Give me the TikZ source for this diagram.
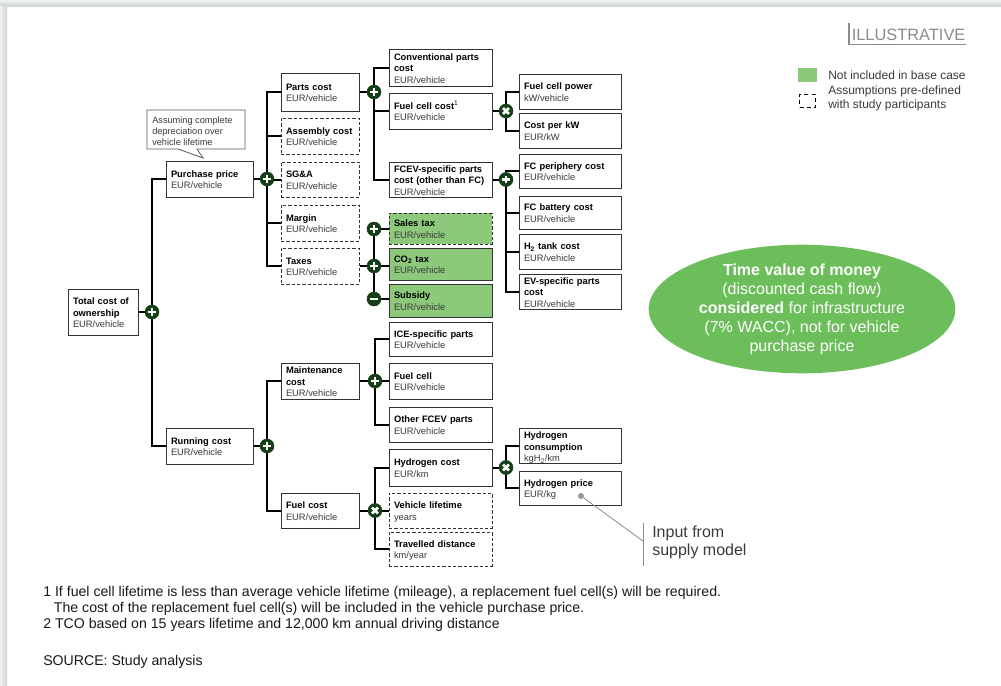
\documentclass[tikz,border=0pt]{standalone}
\usepackage{fontspec}
\setmainfont{Liberation Sans}
\usetikzlibrary{shapes.geometric}
\definecolor{sgngreen}{HTML}{173F17}
\definecolor{boxgreen}{HTML}{8CC97A}
\definecolor{ellgreen}{HTML}{6BBE5A}
\definecolor{edgegray}{HTML}{CDD5D4}
\definecolor{unitgray}{HTML}{3A3A3A}
\definecolor{bordergray}{HTML}{333333}
\definecolor{notegray}{HTML}{8C8C8C}
\pgfdeclarelayer{bg}
\pgfsetlayers{bg,main}
\newcommand\boxfont{\fontsize{7}{8.6}\selectfont}
\newcommand\un[1]{\textcolor{unitgray}{#1}}
\newcommand\bx[7]{%
  \pgfmathsetmacro\myBW{(#4-#2)*0.75}%
  \pgfmathsetmacro\myBH{(#5-#3)*0.75}%
  \pgfmathsetmacro\myTW{(#4-#2)*0.75-7.5}%
  \node[#6, minimum width=\myBW pt, minimum height=\myBH pt, text width=\myTW pt,
        inner xsep=3.75pt, inner ysep=0pt] (#1) at ({(#2+#4)/2},{(#3+#5)/2})
        {\raisebox{-1.4pt}[\height][\depth]{\begin{tabular}{@{}l@{}}#7\end{tabular}}};}
\begin{document}
\begin{tikzpicture}[x=0.75pt,y=-0.75pt,
  cbox/.style={rectangle, draw=bordergray, line width=0.75pt, fill=white, font=\boxfont, align=left},
  dbox/.style={cbox, dash pattern=on 2.4pt off 1.6pt},
  gbox/.style={cbox, fill=boxgreen},
  gdbox/.style={dbox, fill=boxgreen},
  conn/.style={line width=1.5pt, black},
  sgn/.style={circle, fill=sgngreen, draw=sgngreen, minimum size=10.5pt, inner sep=0pt},
  plussgn/.style={sgn, path picture={\draw[white, line width=2pt]
     ([xshift=-2.9pt]path picture bounding box.center) -- ([xshift=2.9pt]path picture bounding box.center)
     ([yshift=-2.9pt]path picture bounding box.center) -- ([yshift=2.9pt]path picture bounding box.center);}},
  minussgn/.style={sgn, path picture={\draw[white, line width=2pt]
     ([xshift=-3pt]path picture bounding box.center) -- ([xshift=3pt]path picture bounding box.center);}},
  timessgn/.style={sgn, path picture={\draw[white, line width=2pt]
     ([shift={(-2.2pt,-2.2pt)}]path picture bounding box.center) -- ([shift={(2.2pt,2.2pt)}]path picture bounding box.center)
     ([shift={(-2.2pt,2.2pt)}]path picture bounding box.center) -- ([shift={(2.2pt,-2.2pt)}]path picture bounding box.center);}},
  legtext/.style={font=\fontsize{9}{10.5}\selectfont, text=unitgray, align=left, anchor=west, inner sep=0pt},
  foot/.style={font=\fontsize{10.6}{12}\selectfont, text=black!90, align=left, anchor=west, inner sep=0pt}
]
\useasboundingbox (0,0) rectangle (1001,686);
\begin{pgfonlayer}{bg}
\fill[white] (0,0) rectangle (1001,686);
\shade[top color=edgegray!30, bottom color=edgegray] (0,0) rectangle (1001,6);
\shade[left color=edgegray!30, right color=edgegray] (0,6) rectangle (7,686);
\end{pgfonlayer}

% ---------- boxes ----------
\bx{tco}{68}{289}{138}{335}{cbox}{\textbf{Total cost of}\\\textbf{ownership}\\\un{EUR/vehicle}}
\bx{pp}{166}{161}{253}{197}{cbox}{\textbf{Purchase price}\\\un{EUR/vehicle}}
\bx{rc}{166}{428}{253}{464}{cbox}{\textbf{Running cost}\\\un{EUR/vehicle}}

\bx{parts}{281}{73}{359}{111}{cbox}{\textbf{Parts cost}\\\un{EUR/vehicle}}
\bx{asm}{281}{118}{359}{154}{dbox}{\textbf{Assembly cost}\\\un{EUR/vehicle}}
\bx{sga}{281}{162}{359}{197}{dbox}{\textbf{SG\&A}\\\un{EUR/vehicle}}
\bx{mar}{281}{205}{359}{241}{dbox}{\textbf{Margin}\\\un{EUR/vehicle}}
\bx{tax}{281}{248}{359}{284}{dbox}{\textbf{Taxes}\\\un{EUR/vehicle}}
\bx{mnt}{281}{363}{359}{399}{cbox}{\textbf{Maintenance}\\\textbf{cost}\\\un{EUR/vehicle}}
\bx{fuel}{281}{493}{359}{528}{cbox}{\textbf{Fuel cost}\\\un{EUR/vehicle}}

\bx{conv}{389}{49}{492}{86}{cbox}{\textbf{Conventional parts}\\\textbf{cost}\\\un{EUR/vehicle}}
\bx{fcc}{389}{93}{492}{129}{cbox}{\textbf{Fuel cell cost}{\fontsize{5}{5}\selectfont\raisebox{2.6pt}{1}}\\\un{EUR/vehicle}}
\bx{fcev}{389}{162}{492}{197}{cbox}{\textbf{FCEV-specific parts}\\\textbf{cost (other than FC)}\\\un{EUR/vehicle}}
\bx{st}{389}{213}{492}{244}{gdbox}{\textbf{Sales tax}\\\un{EUR/vehicle}}
\bx{co2}{389}{248}{492}{280}{gbox}{\textbf{CO\textsubscript{2} tax}\\\un{EUR/vehicle}}
\bx{sub}{389}{284}{492}{317}{gbox}{\textbf{Subsidy}\\\un{EUR/vehicle}}
\bx{ice}{389}{322}{492}{356}{cbox}{\textbf{ICE-specific parts}\\\un{EUR/vehicle}}
\bx{fcm}{389}{363}{492}{399}{cbox}{\textbf{Fuel cell}\\\un{EUR/vehicle}}
\bx{oth}{389}{407}{492}{442}{cbox}{\textbf{Other FCEV parts}\\\un{EUR/vehicle}}
\bx{h2c}{389}{449}{492}{486}{cbox}{\textbf{Hydrogen cost}\\\un{EUR/km}}
\bx{vl}{389}{493}{492}{528}{dbox}{\textbf{Vehicle lifetime}\\\un{years}}
\bx{td}{389}{532}{492}{566}{dbox}{\textbf{Travelled distance}\\\un{km/year}}

\bx{fcp}{519}{74}{621}{109}{cbox}{\textbf{Fuel cell power}\\\un{kW/vehicle}}
\bx{cpk}{519}{113}{621}{148}{cbox}{\textbf{Cost per kW}\\\un{EUR/kW}}
\bx{fcper}{519}{154}{621}{188}{cbox}{\textbf{FC periphery cost}\\\un{EUR/vehicle}}
\bx{fcb}{519}{196}{621}{229}{cbox}{\textbf{FC battery cost}\\\un{EUR/vehicle}}
\bx{h2t}{519}{234}{621}{269}{cbox}{\textbf{H\textsubscript{2} tank cost}\\\un{EUR/vehicle}}
\bx{evs}{519}{274}{621}{309}{cbox}{\textbf{EV-specific parts}\\\textbf{cost}\\\un{EUR/vehicle}}
\bx{h2cons}{519}{429}{621}{463}{cbox}{\textbf{Hydrogen}\\\textbf{consumption}\\\un{kgH\textsubscript{2}/km}}
\bx{h2p}{519}{471}{621}{505}{cbox}{\textbf{Hydrogen price}\\\un{EUR/kg}}

% ---------- sign circles ----------
\node[plussgn] (cT) at (152,312) {};
\node[plussgn] (cPP) at (267,179) {};
\node[plussgn] (cR) at (267,446) {};
\node[plussgn] (cPa) at (374,92) {};
\node[timessgn] (cFC) at (506,111) {};
\node[plussgn] (cFE) at (506,179.5) {};
\node[plussgn] (t1) at (374,229) {};
\node[plussgn] (t2) at (374,266) {};
\node[minussgn] (t3) at (374,299) {};
\node[plussgn] (cM) at (375,381) {};
\node[timessgn] (cF) at (375,510.5) {};
\node[timessgn] (cH) at (506,467.5) {};

% ---------- connectors ----------
\begin{pgfonlayer}{bg}
\draw[conn] (tco) -- (cT);
\draw[conn] (cT.center) |- (pp.west);
\draw[conn] (cT.center) |- (rc.west);
\draw[conn] (pp) -- (cPP);
\foreach \n in {parts,asm,sga,mar,tax} \draw[conn] (cPP.center) |- (\n.west);
\draw[conn] (parts) -- (cPa);
\foreach \n in {conv,fcc,fcev} \draw[conn] (cPa.center) |- (\n.west);
\draw[conn] (fcc) -- (cFC);
\foreach \n in {fcp,cpk} \draw[conn] (cFC.center) |- (\n.west);
\draw[conn] (fcev) -- (cFE);
\foreach \n in {fcper,fcb,h2t,evs} \draw[conn] (cFE.center) |- (\n.west);
\draw[conn] (tax) -- (t2);
\draw[conn] (t1.center) -- (t3.center);
\draw[conn] (t1.center) -- (t1.center -| st.west);
\draw[conn] (t2.center) -- (t2.center -| co2.west);
\draw[conn] (t3.center) -- (t3.center -| sub.west);
\draw[conn] (rc) -- (cR);
\foreach \n in {mnt,fuel} \draw[conn] (cR.center) |- (\n.west);
\draw[conn] (mnt) -- (cM);
\foreach \n in {ice,fcm,oth} \draw[conn] (cM.center) |- (\n.west);
\draw[conn] (fuel) -- (cF);
\foreach \n in {h2c,vl,td} \draw[conn] (cF.center) |- (\n.west);
\draw[conn] (h2c) -- (cH);
\foreach \n in {h2cons,h2p} \draw[conn] (cH.center) |- (\n.west);
\end{pgfonlayer}

% ---------- callout ----------
\draw[fill=white, draw=black!65, line width=0.6pt]
  (147,110) -- (245,110) -- (245,149) -- (197,149) -- (203,158) -- (178,149) -- (147,149) -- cycle;
\node[font=\fontsize{6.9}{8.25}\selectfont, text=unitgray, align=left, anchor=west, inner sep=0pt]
  (note) at (152,131) {Assuming complete\\depreciation over\\vehicle lifetime};

% ---------- supply model pointer ----------
\node[circle, fill=black!40, minimum size=4.5pt, inner sep=0pt] (dot) at (581,496) {};
\coordinate (bend) at (643,541);
\coordinate (vtop) at (643,523);
\coordinate (vbot) at (643,566);
\draw[black!45, line width=0.6pt] (dot) -- (bend);
\draw[black!45, line width=0.6pt] (vtop) -- (vbot);
\node[font=\fontsize{12}{13.5}\selectfont, text=unitgray, align=left, anchor=west, inner sep=0pt]
  (inp) at (652,542) {Input from\\supply model};

% ---------- ellipse ----------
\node[ellipse, fill=ellgreen, minimum width=230pt, minimum height=92pt, inner sep=0pt,
      text=white, align=center, font=\fontsize{12}{14.25}\selectfont] (tvm) at (802,309)
  {\textbf{Time value of money}\\(discounted cash flow)\\\textbf{considered} for infrastructure\\(7\% WACC), not for vehicle\\purchase price};

% ---------- legend ----------
\node[font=\fontsize{12.3}{14}\selectfont, text=notegray, anchor=west, inner sep=0pt] (illu) at (851.5,35) {ILLUSTRATIVE};
\coordinate (iltop) at (849,23);
\coordinate (ilcorner) at (849,44.5);
\coordinate (ilend) at (966,44.5);
\draw[notegray, line width=1pt] (iltop) -- (ilcorner) -- (ilend);

\node[rectangle, fill=boxgreen, minimum width=14.25pt, minimum height=10.5pt, inner sep=0pt] (lg1) at (807.5,75) {};
\node[legtext] (lt1) at (828,75) {Not included in base case};
\node[rectangle, draw=black, line width=0.75pt, dash pattern=on 3pt off 2.5pt, minimum width=12pt, minimum height=10pt, inner sep=0pt] (lg2) at (807.5,101) {};
\node[legtext] (lt2) at (828,98) {Assumptions pre-defined\\with study participants};

% ---------- footnotes ----------
\node[foot] (fn) at (43,609) {1 If fuel cell lifetime is less than average vehicle lifetime (mileage), a replacement fuel cell(s) will be required.\\\hspace*{8pt}The cost of the replacement fuel cell(s) will be included in the vehicle purchase price.\\2 TCO based on 15 years lifetime and 12,000 km annual driving distance};
\node[foot] (src) at (43,662) {SOURCE: Study analysis};
\end{tikzpicture}
\end{document}
